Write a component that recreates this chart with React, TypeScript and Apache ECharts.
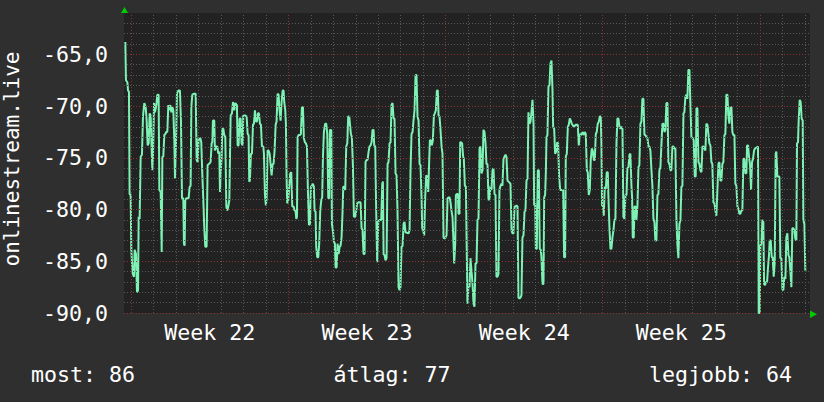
import React, { useEffect, useRef } from "react";
import * as echarts from "echarts";

// Time is in hours since the start of week 22 (Monday 00:00); value in dBm.
const segWeek21Tail22: [number, number][] = [
  [-6.4,-63.8],[-5.7,-67.5],[-4.2,-67.7],[-3.5,-68.5],[-2.5,-68.6],[-1.8,-78.5],[-0.7,-78.6],[0.0,-83.9],[1.5,-86.2],[2.9,-86.5],
  [3.6,-83.9],[5.0,-84.3],[6.1,-88.0],[7.2,-87.8],[7.9,-80.7],[8.9,-80.9],[10.0,-74.9],[11.4,-74.7],[12.5,-71.0],[13.9,-69.7],
  [15.4,-70.1],[16.4,-71.4],[17.5,-73.8],[18.6,-73.6],[19.6,-70.7],[20.7,-70.9],[21.8,-74.3],[22.5,-76.2],[23.2,-74.9],[24.3,-69.7],
  [25.3,-70.6],[26.8,-69.9],[27.8,-68.9],[29.2,-68.9],[30.0,-78.1],[31.4,-78.3],[32.5,-84.1],[33.2,-74.9],[34.2,-74.9],[35.3,-72.8],
  [36.4,-72.7],[37.4,-72.5],[38.5,-72.5],[39.6,-69.9],[40.6,-70.4],[41.7,-69.9],[42.8,-70.6],[43.9,-70.1],[44.9,-70.4],[46.0,-73.3],
  [46.7,-77.0],[47.8,-73.6],[48.8,-68.8],[50.3,-68.5],[52.0,-68.5],[53.1,-71.4],[54.2,-78.9],[55.6,-78.9],[56.3,-83.3],[57.0,-83.5],
  [57.7,-79.1],[58.8,-78.9],[61.3,-78.9],[62.4,-77.8],[63.4,-77.7],[64.2,-70.1],[65.2,-68.9],[67.4,-68.8],[68.8,-68.8],[69.9,-75.2],
  [70.9,-75.4],[72.0,-73.1],[73.8,-73.1],[74.8,-73.5],[75.9,-76.5],[77.0,-79.1],[78.0,-81.7],[79.1,-83.6],[80.5,-83.6],[81.6,-75.7],
  [83.0,-75.6],[84.8,-75.4],[85.9,-73.6],[86.6,-73.5],[87.3,-71.4],[88.7,-71.4],[89.4,-74.3],[90.5,-73.9],[91.9,-73.9],[93.0,-74.6],
  [94.1,-74.4],[94.8,-78.3],[95.5,-76.5],[96.6,-74.9],[97.3,-72.2],[98.4,-72.2],[99.4,-72.8],[100.5,-73.0],[101.6,-79.7],[102.6,-80.1],
  [103.7,-79.7],[104.8,-79.1],[105.5,-74.9],[106.2,-70.9],[107.6,-70.7],[108.7,-69.6],[110.1,-70.4],[111.2,-69.7]
];

const segWeek22b: [number, number][] = [
  [112.9,-69.9],[113.7,-73.8],[114.7,-73.8],[115.8,-71.2],[116.9,-71.2],[117.9,-73.6],[119.0,-73.8],[119.7,-70.9],[121.9,-70.9],[123.3,-71.0],
  [124.4,-72.7],[125.4,-72.8],[126.1,-77.3],[126.8,-77.2],[127.9,-74.6],[129.0,-74.6],[130.1,-71.8],[131.1,-71.7],[132.2,-70.4],[133.3,-71.5],
  [134.3,-71.5],[135.4,-70.7],[136.5,-70.7],[137.5,-71.7],[138.6,-71.8],[139.7,-73.9],[141.1,-73.9],[141.8,-74.6],[142.9,-78.6],[143.9,-79.6],
  [144.7,-78.8],[145.7,-74.3],[146.8,-74.3],[147.9,-74.6],[148.9,-75.6],[150.0,-76.7],[151.1,-75.6],[152.1,-75.6],[153.2,-74.3],[154.3,-71.8],
  [155.3,-71.5],[156.4,-68.8],[157.5,-68.9],[158.5,-70.4],[159.6,-71.4],[160.7,-69.6],[161.8,-68.5],[162.8,-68.5],[163.5,-69.6],[164.6,-70.4],
  [165.3,-71.7],[166.0,-76.8],[166.7,-79.4],[167.8,-79.1],[168.9,-77.7],[169.9,-76.5],[171.0,-76.4],[172.1,-79.7],[173.5,-79.7],[174.6,-80.1],
  [175.6,-80.1],[176.4,-80.9],[177.1,-80.7],[177.8,-73.0],[178.9,-72.8],[180.3,-72.8],[181.3,-72.7],[182.4,-70.1],[183.5,-70.1],[184.5,-73.1],
  [185.6,-73.5],[186.7,-73.6],[187.8,-73.9],[188.8,-78.1],[189.9,-81.5],[191.0,-81.4],[192.0,-77.8],[193.1,-77.7],[194.2,-77.5],[195.2,-77.8],
  [195.9,-80.1],[197.0,-80.2],[197.7,-83.6],[198.8,-84.6],[199.9,-84.6],[200.9,-83.3],[202.0,-80.1],[203.1,-79.1],[204.1,-78.8],[204.9,-74.9],
  [205.9,-72.5],[207.3,-71.7],[208.4,-71.7],[209.5,-72.7],[210.6,-78.9],[211.6,-78.9],[212.3,-72.3],[213.8,-72.3],[214.5,-81.4],[215.5,-82.0],
  [216.6,-83.1],[217.7,-83.3],[218.4,-85.6],[219.5,-85.6],[220.5,-83.3],[221.6,-84.3],[222.7,-83.6],[223.7,-83.5],[224.8,-82.7],[225.9,-80.1],
  [226.6,-77.8],[227.7,-77.8],[228.7,-78.1],[229.8,-73.9],[230.9,-73.6],[231.9,-71.0],[233.0,-71.0]
];

const segWeek23: [number, number][] = [
  [234.8,-72.7],[235.8,-73.0],[236.9,-75.6],[238.0,-80.7],[239.4,-80.7],[240.5,-80.1],[241.5,-79.4],[243.0,-79.3],[245.1,-79.3],[246.2,-81.8],
  [247.2,-82.0],[248.3,-84.3],[249.4,-84.3],[250.4,-75.4],[251.5,-75.2],[252.6,-75.2],[253.7,-74.4],[254.7,-73.9],[255.8,-73.8],[256.9,-73.5],
  [257.9,-72.3],[259.0,-72.3],[259.7,-73.8],[260.8,-73.9],[261.8,-80.1],[262.9,-85.1],[264.0,-81.2],[265.1,-81.0],[267.2,-81.0],[268.3,-77.5],
  [269.0,-77.3],[269.7,-84.3],[270.7,-84.4],[271.8,-84.9],[272.9,-84.7],[274.0,-75.6],[275.0,-75.4],[276.1,-73.6],[277.2,-73.5],[278.2,-69.9],
  [279.3,-69.7],[280.4,-71.2],[281.4,-71.2],[282.5,-76.5],[283.6,-76.7],[284.6,-80.1],[285.7,-87.5],[286.8,-87.8],[287.8,-87.5],[288.9,-83.6],
  [290.0,-83.5],[291.1,-81.4],[292.1,-81.2],[293.2,-82.2],[296.4,-82.3],[297.5,-82.0],[298.5,-76.2],[299.6,-72.7],[300.7,-72.5],[301.7,-71.4],
  [302.8,-70.4],[303.9,-67.0],[304.9,-67.0],[306.0,-71.0],[307.1,-71.4],[308.2,-75.6],[309.2,-75.7],[310.3,-78.8],[311.0,-81.8],[312.1,-82.0],
  [313.1,-82.5],[314.2,-78.8],[315.3,-76.7],[316.3,-76.8],[317.4,-78.3],[318.1,-78.3],[319.2,-73.3],[320.3,-73.3],[321.3,-73.8],[322.4,-73.3],
  [323.5,-70.9],[324.5,-70.7],[325.6,-70.4],[326.7,-68.5],[327.7,-68.5],[328.5,-70.9],[329.5,-71.0],[330.6,-72.3],[331.7,-73.9],[332.7,-74.6],
  [333.8,-82.7],[334.9,-82.8],[335.9,-82.7],[337.0,-82.5],[338.1,-78.9],[340.2,-78.8],[341.3,-79.3],[342.3,-80.1],[343.4,-80.7],[344.5,-83.3],
  [345.2,-85.2],[346.3,-83.3],[347.0,-78.6],[348.0,-78.5],[349.1,-78.5],[349.8,-80.4],[350.9,-80.4],[351.6,-73.5],[352.7,-73.5],[353.7,-73.6],
  [354.8,-74.9]
];

const segWeek24a: [number, number][] = [
  [355.5,-75.1],[356.6,-77.7],[357.7,-77.8],[358.7,-84.3],[359.4,-89.1],[360.5,-87.3],[361.6,-87.5],[362.6,-84.7],[363.7,-85.9],[364.8,-87.2],
  [365.9,-89.1],[366.9,-89.4],[368.0,-85.2],[369.1,-85.2],[370.1,-81.0],[371.2,-80.9],[372.3,-74.1],[373.3,-73.9],[374.4,-76.5],[375.5,-76.2],
  [376.5,-72.3],[377.6,-72.5],[378.7,-73.6],[379.7,-75.6],[380.8,-75.6],[381.9,-79.1],[383.0,-78.9],[384.0,-77.7],[385.1,-78.1],[386.2,-76.2],
  [387.2,-76.0],[388.3,-78.5],[389.4,-78.6],[390.4,-86.5],[391.5,-86.5],[392.6,-86.2],[393.6,-78.1],[394.7,-77.7],[395.8,-77.5],[396.8,-77.7],
  [397.9,-75.1],[399.0,-74.9],[400.1,-74.7],[401.1,-74.9],[402.2,-77.2],[403.3,-77.3],[405.4,-77.5],[406.5,-82.0],[407.5,-82.3],[408.6,-82.3],
  [409.7,-79.7],[410.7,-79.7],[411.8,-79.6],[412.9,-79.7],[413.9,-88.5],[415.0,-88.6],[416.1,-88.5],[417.1,-88.3],[418.2,-82.7],[419.3,-82.5],
  [420.4,-80.2],[421.4,-80.1],[422.5,-77.2],[423.6,-77.0],[424.6,-70.6],[425.7,-71.7],[426.8,-71.5],[427.8,-70.6],[428.9,-69.4],[430.0,-71.7],
  [430.7,-79.6],[431.8,-79.4],[432.5,-83.8],[433.5,-83.8],[434.6,-76.2],[435.7,-76.2],[436.7,-83.8],[437.8,-83.9],[438.5,-84.6],[439.6,-87.2],
  [440.7,-87.2],[441.4,-78.8],[442.4,-78.6],[443.2,-76.4],[443.9,-73.0],[444.9,-72.8],[446.0,-68.1],[447.1,-68.0],[448.1,-65.9],[449.2,-65.6],
  [450.3,-68.5],[451.0,-72.0],[452.1,-72.2],[453.1,-74.6],[454.2,-74.4],[455.3,-73.5],[456.3,-73.6],[457.4,-76.8],[458.5,-78.1],[461.7,-78.1],
  [462.7,-84.6],[463.8,-84.6],[464.5,-74.9],[465.6,-74.6],[466.7,-72.0],[467.7,-71.8],[468.8,-71.2],[469.9,-71.4],[470.9,-71.7],[473.1,-72.0],
  [475.2,-71.8],[476.3,-71.8]
];

const segWeek24b: [number, number][] = [
  [477.3,-71.8],[478.4,-73.8],[479.5,-72.7],[480.6,-72.8],[481.6,-72.7],[482.7,-72.5],[483.8,-72.8],[484.8,-72.5],[485.9,-72.7],[487.0,-76.2],
  [488.0,-76.4],[489.1,-78.6],[490.2,-78.1],[491.2,-75.2],[492.3,-74.1],[493.4,-74.3],[494.4,-75.2],[495.5,-75.2],[496.6,-72.7],[497.6,-72.5],
  [498.7,-71.7],[499.8,-71.5],[500.9,-71.0],[501.9,-71.0],[502.6,-73.6],[503.3,-79.6],[504.4,-79.7],[505.1,-80.6],[506.2,-77.8],[507.3,-78.0],
  [508.3,-76.4],[509.4,-76.4],[510.1,-78.8],[511.2,-81.8],[512.3,-83.8],[513.3,-83.8],[514.4,-82.7],[515.5,-82.0],[516.5,-81.0],[517.6,-80.9],
  [518.7,-73.6],[519.7,-71.2],[520.8,-71.2],[521.9,-72.0],[522.9,-72.2],[524.0,-72.0],[525.1,-72.2],[526.1,-80.7],[527.2,-80.9],[528.3,-78.6],
  [529.4,-78.6],[530.4,-76.0],[531.5,-75.9],[532.6,-74.7],[533.6,-74.6],[534.7,-77.7],[535.4,-78.8],[536.1,-82.7],[537.2,-82.7],[537.9,-79.7],
  [539.0,-79.7],[540.0,-81.0],[541.1,-79.7],[542.2,-75.9],[543.2,-75.7],[544.3,-71.7],[545.4,-71.5],[546.4,-69.3],[547.5,-69.3],[548.6,-72.8],
  [549.7,-72.8],[550.7,-73.0],[551.8,-73.1],[552.9,-73.9],[553.9,-73.9],[555.0,-74.3],[556.1,-76.2],[557.1,-77.7],[558.2,-80.9],[559.3,-81.2],
  [560.3,-83.0],[561.4,-83.0],[562.5,-78.6],[563.5,-78.5],[564.6,-76.2],[565.7,-75.9],[566.8,-73.6],[567.8,-71.7],[568.9,-71.7],[570.0,-72.5],
  [571.0,-72.3],[572.1,-69.7],[573.2,-69.7],[574.2,-75.4],[575.3,-75.6],[576.4,-76.2],[577.4,-76.2],[578.5,-73.9],[579.6,-73.9],[580.6,-74.1],
  [581.7,-74.1],[582.8,-80.9],[583.8,-83.3],[584.9,-84.7],[586.0,-81.4],[587.1,-81.0],[588.1,-77.8],[589.2,-77.7],[590.3,-70.7],[591.3,-70.6],
  [592.4,-69.1],[593.5,-68.9],[594.5,-69.3],[595.6,-66.5],[596.7,-66.5],[597.7,-69.7],[598.8,-73.0]
];

const segWeek25: [number, number][] = [
  [600.2,-73.1],[601.3,-73.3],[602.4,-76.8],[603.4,-76.8],[604.2,-70.2],[605.2,-70.2],[606.3,-75.4],[607.4,-75.6],[608.4,-76.2],[609.5,-76.4],
  [610.6,-73.9],[611.6,-73.9],[612.7,-74.1],[613.8,-74.3],[614.8,-71.7],[615.9,-71.8],[617.0,-72.7],[618.0,-73.6],[619.1,-73.8],[620.2,-75.4],
  [621.2,-75.6],[622.3,-79.3],[623.4,-79.4],[624.5,-80.1],[625.5,-80.6],[626.6,-78.1],[627.7,-75.6],[628.7,-75.4],[629.8,-77.2],[630.9,-77.2],
  [631.9,-75.6],[633.0,-75.4],[634.1,-72.8],[635.1,-72.7],[636.2,-68.9],[637.3,-68.9],[638.3,-71.0],[639.4,-71.7],[640.5,-70.1],[641.6,-70.1],
  [642.6,-72.5],[643.7,-72.8],[644.8,-72.8],[645.8,-77.5],[646.9,-77.7],[648.0,-79.7],[649.0,-79.9],[650.1,-80.4],[651.2,-80.4],[652.2,-80.1],
  [653.3,-80.1],[654.4,-75.1],[655.4,-75.1],[656.5,-76.5],[657.6,-76.5],[658.3,-73.8],[659.4,-73.8],[660.4,-74.9],[661.5,-75.7],[662.6,-78.1],
  [663.6,-75.4],[664.7,-75.1],[665.8,-74.3],[666.8,-74.1],[670.0,-73.9],[670.8,-90.0],[671.8,-90.0],[672.5,-83.5],[673.6,-83.3],[674.7,-81.0],
  [675.7,-81.2],[676.5,-87.2],[677.5,-87.3],[678.6,-87.0],[679.7,-87.0],[680.7,-85.6],[681.8,-84.4],[682.5,-83.0],[683.6,-83.0],[684.7,-84.6],
  [685.7,-84.6],[686.8,-86.5],[687.9,-85.1],[688.9,-74.6],[689.6,-74.4],[690.7,-76.8],[692.8,-76.8],[693.9,-84.7],[695.0,-84.7],[696.1,-87.7],
  [697.1,-87.8],[698.2,-86.5],[699.3,-86.7],[700.3,-82.7],[701.4,-82.3],[702.5,-84.4],[703.5,-84.6],[704.6,-85.9],[705.7,-87.5],[706.7,-81.8],
  [707.8,-81.8],[708.9,-82.0],[709.9,-82.8],[711.0,-83.0],[711.7,-73.6],[712.8,-73.5],[713.5,-71.4],[714.6,-69.4],[715.6,-69.6],[716.7,-71.2],
  [717.8,-71.4],[718.5,-81.0],[719.6,-81.4],[720.6,-85.9],[721.7,-85.9]
];

const weekLabels = ["Week 22", "Week 23", "Week 24", "Week 25"];
const weekCenters = [84, 252, 420, 588];
const weekStarts = [0, 168, 336, 504, 672];
const dayCount = 31;
const yMin = -90;
const yMax = -61;
const xMin = -7.8;
const xMax = 725.6;
const axisTitle = "onlinestream.live";
const legendCurrent = 86;
const legendAverage = 77;
const legendBest = 64;

const FONT = "DejaVu Sans Mono";
const FS = 21.6;

export default function App() {
  const ref = useRef<HTMLDivElement>(null);
  useEffect(() => {
    if (!ref.current) return;
    const chart = echarts.init(ref.current, null, { renderer: "svg" });
    const points = [
      ...segWeek21Tail22, ...segWeek22b, ...segWeek23,
      ...segWeek24a, ...segWeek24b, ...segWeek25,
    ];
    const greyLine = { color: "#585858", width: 1, type: [1, 2] as number[] };
    const redLine = { color: "#8c3434", width: 1, type: [1, 2] as number[] };
    const gridLines: any[] = [];
    for (let y = yMin + 1; y < yMax; y++) {
      if (y % 5 !== 0) gridLines.push({ yAxis: y, lineStyle: greyLine });
    }
    for (let d = 0; d < dayCount; d++) {
      const h = d * 24;
      if (!weekStarts.includes(h)) gridLines.push({ xAxis: h, lineStyle: greyLine });
    }
    for (let y = yMin; y < yMax; y += 5) gridLines.push({ yAxis: y, lineStyle: redLine });
    weekStarts.forEach((h) => gridLines.push({ xAxis: h, lineStyle: redLine }));

    const font = `${FS}px '${FONT}'`;
    chart.setOption({
      animation: false,
      backgroundColor: "#2f2f2f",
      grid: {
        left: 124, top: 13, width: 686, height: 300,
        show: true, backgroundColor: "#222222", borderWidth: 0,
      },
      xAxis: {
        type: "value", min: xMin, max: xMax,
        axisLine: { show: false }, axisTick: { show: false }, splitLine: { show: false },
        axisLabel: {
          customValues: weekCenters,
          formatter: (v: number) => {
            const i = weekCenters.indexOf(v);
            return i >= 0 ? weekLabels[i] : "";
          },
          color: "#ffffff", fontFamily: FONT, fontSize: FS, margin: 8,
        },
      },
      yAxis: {
        type: "value", min: yMin, max: yMax, interval: 5,
        axisLine: { show: false }, axisTick: { show: false }, splitLine: { show: false },
        axisLabel: {
          formatter: (v: number) => (v % 5 === 0 ? v.toFixed(1).replace(".", ",") : ""),
          color: "#ffffff", fontFamily: FONT, fontSize: FS, margin: 16,
        },
      },
      series: [
        {
          type: "line", data: [], z: 1, silent: true,
          markLine: {
            silent: true, symbol: ["none", "none"], label: { show: false },
            animation: false, data: gridLines,
          },
        },
        {
          type: "line", data: points, z: 3, showSymbol: false, symbol: "none",
          lineStyle: { color: "#7cf2b4", width: 2 }, silent: true,
        },
      ],
      graphic: [
        {
          type: "text", x: 11.5, y: 159, rotation: Math.PI / 2,
          style: { text: axisTitle, fill: "#ffffff", font: `21px '${FONT}'`, align: "center", verticalAlign: "middle" },
        },
        {
          type: "text", x: 31, y: 374,
          style: { text: `most: ${legendCurrent}`, fill: "#ffffff", font, align: "left", verticalAlign: "middle" },
        },
        {
          type: "text", x: 392, y: 374,
          style: { text: `átlag: ${legendAverage}`, fill: "#ffffff", font, align: "center", verticalAlign: "middle" },
        },
        {
          type: "text", x: 792, y: 374,
          style: { text: `legjobb: ${legendBest}`, fill: "#ffffff", font, align: "right", verticalAlign: "middle" },
        },
        {
          type: "polygon",
          shape: { points: [[121, 13], [128, 13], [124.5, 7]] },
          style: { fill: "#00cc00" },
        },
        {
          type: "polygon",
          shape: { points: [[810, 310.5], [810, 318], [817, 314.2]] },
          style: { fill: "#00cc00" },
        },
      ],
    });
    return () => chart.dispose();
  }, []);
  return (
    <div
      ref={ref}
      style={{ position: "absolute", left: 0, top: 0, width: 824, height: 402 }}
    />
  );
}
